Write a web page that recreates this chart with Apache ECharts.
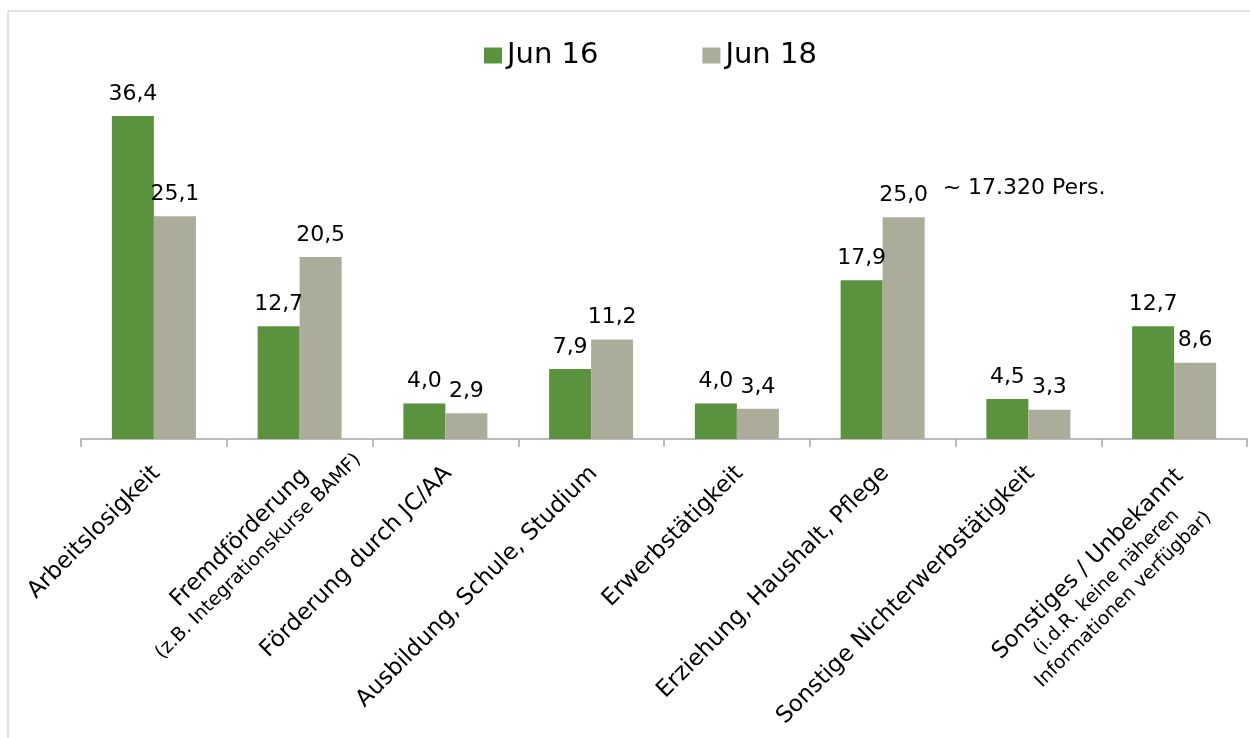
<!DOCTYPE html>
<html>
<head>
<meta charset="utf-8">
<script src="https://cdn.jsdelivr.net/npm/echarts@6/dist/echarts.min.js"></script>
<style>html,body{margin:0;padding:0;background:#fff}#c{width:1250px;height:738px}</style>
</head>
<body>
<div id="c"></div>
<script>
const categories = [
  'Arbeitslosigkeit',
  'Fremdförderung',
  'Förderung durch JC/AA',
  'Ausbildung, Schule, Studium',
  'Erwerbstätigkeit',
  'Erziehung, Haushalt, Pflege',
  'Sonstige Nichterwerbstätigkeit',
  'Sonstiges / Unbekannt'
];
const subLabels = [
  [], ['(z.B. Integrationskurse BAMF)'], [], [], [], [], [],
  ['(i.d.R. keine näheren', 'Informationen verfügbar)']
];
const seriesNames = ['Jun 16', 'Jun 18'];
const jun16 = [36.4, 12.7, 4.0, 7.9, 4.0, 17.9, 4.5, 12.7];
const jun18 = [25.1, 20.5, 2.9, 11.2, 3.4, 25.0, 3.3, 8.6];
const annotation = { category: 5, value: 25.0, text: '~ 17.320 Pers.' };

const FONT = 'DejaVu Sans';
const MAIN_SIZE = 23, SUB_SIZE = 19, MAIN_LH = 28, SUB_LH = 24;
const fmt = v => v.toFixed(1).replace('.', ',');

// measure text widths so sub-lines can be centred on the main line
const cv = document.createElement('canvas').getContext('2d');
function textWidth(t, size) { cv.font = size + 'px "' + FONT + '"'; return cv.measureText(t).width; }

const rich = {
  a: { fontFamily: FONT, fontSize: MAIN_SIZE, lineHeight: MAIN_LH, align: 'center', color: '#000' }
};
const axisData = categories.map((c, i) => {
  const subs = subLabels[i];
  if (!subs.length) return '{a|' + c + '}';
  const w1 = textWidth(c, MAIN_SIZE);
  const key = 'b' + i;
  rich[key] = { fontFamily: FONT, fontSize: SUB_SIZE, lineHeight: SUB_LH, align: 'center', color: '#000', width: w1 };
  const spKey = 's' + i;
  rich[spKey] = { fontSize: 1, lineHeight: SUB_LH * subs.length + 8, align: 'center' };
  return '{' + spKey + '| }\n{a|' + c + '}\n' + subs.map(s => '{' + key + '|' + s + '}').join('\n');
});

const chart = echarts.init(document.getElementById('c'));
chart.setOption({
  animation: false,
  backgroundColor: '#ffffff',
  textStyle: { fontFamily: FONT },
  graphic: [
    { type: 'line', shape: { x1: 8, y1: 11, x2: 1250, y2: 11 }, style: { stroke: '#d9d9d9', lineWidth: 1.5 } },
    { type: 'line', shape: { x1: 8, y1: 11, x2: 8, y2: 738 }, style: { stroke: '#d9d9d9', lineWidth: 1.5 } }
  ],
  legend: {
    data: seriesNames,
    left: 479,
    top: 36,
    icon: 'rect',
    itemWidth: 18,
    itemHeight: 16,
    itemGap: 104,
    textStyle: { fontFamily: FONT, fontSize: 29, color: '#000' }
  },
  grid: { left: 81, right: 3, top: 84, bottom: 299 },
  xAxis: {
    type: 'category',
    data: axisData,
    axisLine: { lineStyle: { color: '#a6a6a6', width: 1.5 } },
    axisTick: { show: true, length: 8, lineStyle: { color: '#a6a6a6', width: 1.5 } },
    axisLabel: {
      interval: 0,
      rotate: 45,
      margin: 28,
      padding: [8, 0, 0, 0],
      color: '#000',
      fontFamily: FONT,
      fontSize: MAIN_SIZE,
      rich: rich
    }
  },
  yAxis: {
    type: 'value',
    min: 0,
    max: 40,
    show: false,
    splitLine: { show: false }
  },
  series: [
    {
      name: seriesNames[0],
      type: 'bar',
      data: jun16,
      barWidth: 42,
      barGap: '0%',
      itemStyle: { color: '#5b923e' },
      label: {
        show: true, position: 'top', distance: 11,
        fontFamily: FONT, fontSize: 22, color: '#000',
        formatter: p => fmt(p.value)
      }
    },
    {
      name: seriesNames[1],
      type: 'bar',
      data: jun18,
      barWidth: 42,
      barGap: '0%',
      itemStyle: { color: '#abad9a' },
      label: {
        show: true, position: 'top', distance: 11,
        fontFamily: FONT, fontSize: 22, color: '#000',
        formatter: p => fmt(p.value)
      },
      markPoint: {
        symbol: 'rect',
        symbolSize: 0,
        silent: true,
        data: [{
          coord: [annotation.category, annotation.value],
          label: {
            show: true,
            position: 'right',
            offset: [34, -29],
            formatter: annotation.text,
            fontFamily: FONT, fontSize: 22, color: '#000'
          }
        }]
      }
    }
  ]
});
</script>
</body>
</html>
